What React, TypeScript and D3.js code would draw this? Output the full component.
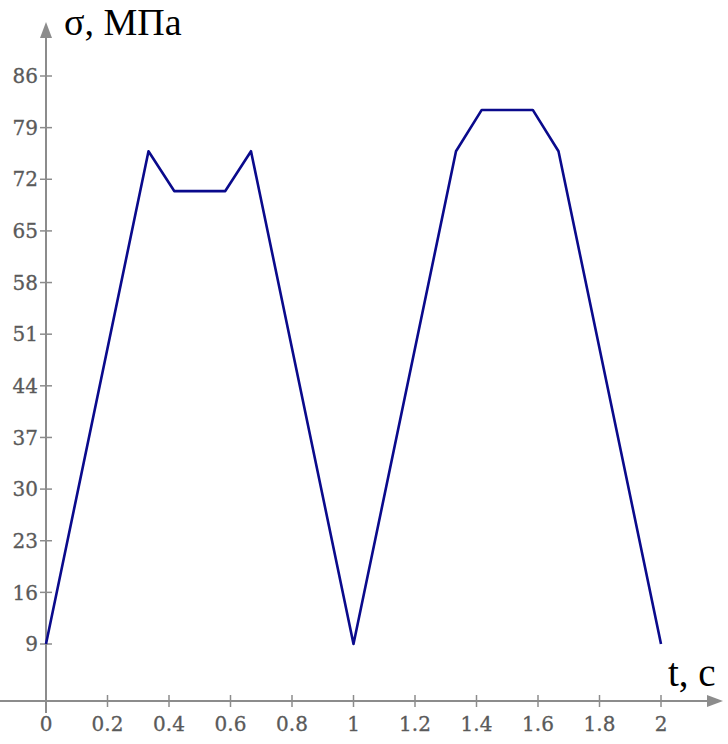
import React from "react";
import * as d3 from "d3";

const tValues = [0, 1 / 3, 0.417, 0.583, 2 / 3, 1, 4 / 3, 1.417, 1.583, 5 / 3, 2];
const sigmaValues = [9, 75.8, 70.4, 70.4, 75.8, 9, 75.8, 81.4, 81.4, 75.8, 9];
const xTicks = [0, 0.2, 0.4, 0.6, 0.8, 1, 1.2, 1.4, 1.6, 1.8, 2];
const yTicks = [9, 16, 23, 30, 37, 44, 51, 58, 65, 72, 79, 86];

export default function App() {
  const W = 728, H = 744;
  const x = d3.scaleLinear().domain([0, 2]).range([46, 661]);
  const y = d3.scaleLinear().domain([9, 86]).range([644, 76]);
  const axisY = 701;
  const x0 = x(0);
  const pts = tValues.map((t, i) => [t, sigmaValues[i]] as [number, number]);
  const line = d3.line<[number, number]>().x(d => x(d[0])).y(d => y(d[1]));
  const axisColor = "#8c8c8c";
  const labelColor = "#5a5a5a";
  const fmt = (v: number) => (v === 0 ? "0" : String(+v.toFixed(1)));
  return (
    <svg width={W} height={H} style={{ position: "absolute", left: 0, top: 0, background: "#fff" }}>
      <line x1={x0} x2={x0} y1={axisY + 12} y2={36} stroke={axisColor} strokeWidth={2} />
      <path d={`M${x0},22 L${x0 - 6},38 L${x0 + 6},38 Z`} fill={axisColor} />
      <line x1={0} x2={708} y1={axisY} y2={axisY} stroke={axisColor} strokeWidth={2} />
      <path d={`M723,${axisY} L707,${axisY - 6} L707,${axisY + 6} Z`} fill={axisColor} />
      {yTicks.map(v => (
        <g key={"y" + v}>
          <line x1={x0 - 6} x2={x0 + 6} y1={y(v)} y2={y(v)} stroke={axisColor} strokeWidth={1.5} />
          <text x={x0 - 8} y={y(v)} dy="0.36em" textAnchor="end" fontFamily="DejaVu Serif" fontSize={20} fill={labelColor} stroke={labelColor} strokeWidth={0.3}>{v}</text>
        </g>
      ))}
      {xTicks.map(v => (
        <g key={"x" + v}>
          <line x1={x(v)} x2={x(v)} y1={axisY - 6} y2={axisY + 6} stroke={axisColor} strokeWidth={1.5} />
          <text x={x(v)} y={axisY + 23} dy="0.36em" textAnchor="middle" fontFamily="DejaVu Serif" fontSize={20} fill={labelColor} stroke={labelColor} strokeWidth={0.3}>{fmt(v)}</text>
        </g>
      ))}
      <path d={line(pts) || ""} fill="none" stroke="#0a0a8c" strokeWidth={2.6} strokeLinejoin="round" />
      <text x={64} y={35} fontFamily="Liberation Serif" fontSize={38} fill="#000">σ, МПа</text>
      <text x={668} y={686} fontFamily="Liberation Serif" fontSize={39} fill="#000">t, c</text>
    </svg>
  );
}
